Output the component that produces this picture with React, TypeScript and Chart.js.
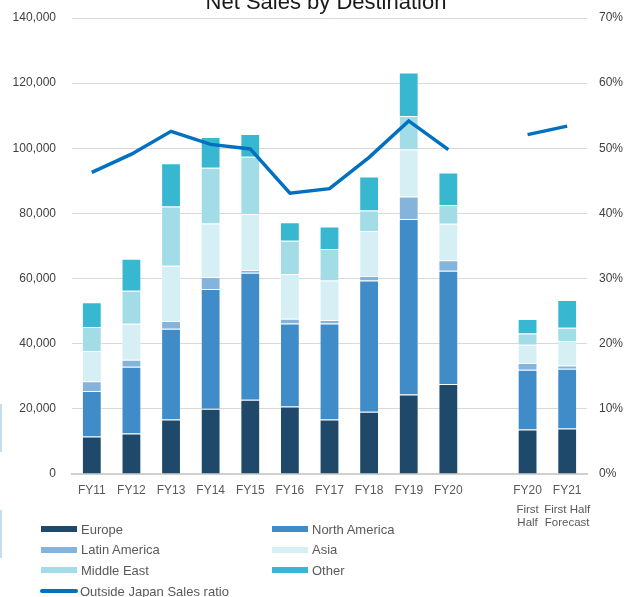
import React, { useEffect, useRef } from "react";
import { Chart, registerables } from "chart.js";

Chart.register(...registerables);

const FONT = "'Liberation Sans', Arial, sans-serif";

const categories = ["FY11", "FY12", "FY13", "FY14", "FY15", "FY16", "FY17", "FY18", "FY19", "FY20", "", "FY20", "FY21"];
const subLabels: string[][] = [[], [], [], [], [], [], [], [], [], [], [], ["First", "Half"], ["First Half", "Forecast"]];

const europe = [11500, 12400, 16700, 20050, 22800, 20700, 16700, 19100, 24400, 27600, null, 13700, 14000];
const northAmerica = [14000, 20500, 27900, 36750, 39000, 25500, 29500, 40300, 53900, 34800, null, 18300, 18300];
const latinAmerica = [3000, 2150, 2400, 3700, 800, 1500, 1100, 1400, 6900, 3200, null, 2100, 1000];
const asia = [9300, 11050, 16900, 16400, 17200, 13700, 12100, 13800, 14400, 11200, null, 5600, 7500];
const middleEast = [7300, 10150, 18200, 17100, 17600, 10200, 9700, 6300, 10300, 5800, null, 3400, 4100];
const other = [7600, 9800, 13300, 9500, 7000, 5700, 6900, 10400, 13400, 10000, null, 4500, 8500];
const outsideJapanRatio = [46.3, 49.1, 52.6, 50.6, 49.9, 43.1, 43.8, 48.6, 54.2, 49.8, null, 52.1, 53.4];

const seriesNames = ["Europe", "North America", "Latin America", "Asia", "Middle East", "Other"];
const seriesColors = ["#1F496B", "#3F8CC8", "#84B3DB", "#D6EFF5", "#A2DCE7", "#38B7D0"];
const seriesData = [europe, northAmerica, latinAmerica, asia, middleEast, other];
const lineName = "Outside Japan Sales ratio";
const lineColor = "#0070C0";
const title = "Net Sales by Destination";

const overlayPlugin = {
  id: "overlay",
  afterDraw(chart: any) {
    const ctx = chart.ctx;
    const xs = chart.scales.x;
    ctx.save();
    ctx.fillStyle = "#1a1a1a";
    ctx.font = `22px ${FONT}`;
    ctx.textAlign = "center";
    ctx.textBaseline = "alphabetic";
    ctx.fillText(title, 326, 9);
    ctx.fillStyle = "#595959";
    ctx.font = `11.5px ${FONT}`;
    ctx.textBaseline = "middle";
    subLabels.forEach((lines, i) => {
      const x = xs.getPixelForValue(i);
      lines.forEach((t, j) => ctx.fillText(t, x, 510 + j * 12.5));
    });
    ctx.restore();
  },
};

const zeroPad = (s: any) => {
  s.paddingTop = 0;
  s.paddingBottom = 0;
  s.paddingLeft = 0;
  s.paddingRight = 0;
};

export default function App() {
  const ref = useRef<HTMLCanvasElement>(null);
  useEffect(() => {
    if (!ref.current) return;
    const datasets: any[] = seriesNames.map((name, i) => ({
      type: "bar",
      label: name,
      data: seriesData[i],
      backgroundColor: seriesColors[i],
      borderColor: "rgba(255,255,255,0.25)",
      borderWidth: 1,
      yAxisID: "y",
      stack: "s",
      order: 1,
      categoryPercentage: 0.5,
      barPercentage: 1,
    }));
    datasets.push({
      type: "line",
      label: lineName,
      data: outsideJapanRatio,
      borderColor: lineColor,
      backgroundColor: lineColor,
      borderWidth: 3.5,
      pointRadius: 0,
      tension: 0,
      spanGaps: false,
      yAxisID: "y1",
      order: 0,
    });
    const chart = new Chart(ref.current, {
      type: "bar",
      data: { labels: categories, datasets },
      options: {
        responsive: false,
        animation: false,
        layout: { padding: { top: 18, left: 0, right: 0, bottom: 0 } },
        plugins: { legend: { display: false }, tooltip: { enabled: false }, title: { display: false } },
        scales: {
          x: {
            stacked: true,
            grid: { display: false },
            border: { display: true, color: "#D0D0D0", width: 2 },
            ticks: { color: "#595959", font: { family: FONT, size: 12 }, padding: 1, maxRotation: 0, autoSkip: false },
            afterFit: (s: any) => { s.height = 123; zeroPad(s); },
          },
          y: {
            stacked: true,
            position: "left",
            min: 0,
            max: 140000,
            grid: { color: "#D9D9D9", lineWidth: 1, drawTicks: false },
            border: { display: false },
            ticks: {
              stepSize: 20000,
              color: "#404040",
              font: { family: FONT, size: 12 },
              padding: 16,
              callback: (v: any) => Number(v).toLocaleString("en-US"),
            },
            afterFit: (s: any) => { s.width = 72; zeroPad(s); },
          },
          y1: {
            position: "right",
            min: 0,
            max: 70,
            grid: { display: false, drawTicks: false },
            border: { display: false },
            ticks: {
              stepSize: 10,
              color: "#404040",
              font: { family: FONT, size: 12 },
              padding: 12,
              callback: (v: any) => `${v}%`,
            },
            afterFit: (s: any) => { s.width = 38; zeroPad(s); },
          },
        },
      } as any,
      plugins: [overlayPlugin],
    });
    return () => chart.destroy();
  }, []);

  const legendItems = [
    ...seriesNames.map((n, i) => ({ name: n, color: seriesColors[i], line: false })),
    { name: lineName, color: lineColor, line: true },
  ];
  const colX = [41, 272];
  const rowY = [529, 549.5, 570, 591];

  return (
    <div style={{ position: "absolute", left: 0, top: 0, width: 625, height: 597, overflow: "hidden", background: "#fff" }}>
      <canvas ref={ref} width={625} height={597} style={{ position: "absolute", left: 0, top: 0 }} />
      <div style={{ position: "absolute", left: 0, top: 404, width: 2, height: 48, background: "#C5DDF0" }} />
      <div style={{ position: "absolute", left: 0, top: 510, width: 2, height: 48, background: "#C5DDF0" }} />
      {legendItems.map((it, i) => {
        const col = it.line ? 0 : i % 2;
        const row = it.line ? 3 : Math.floor(i / 2);
        return (
          <div
            key={i}
            style={{
              position: "absolute",
              left: colX[col] - (it.line ? 1 : 0),
              top: rowY[row] - 8,
              height: 16,
              display: "flex",
              alignItems: "center",
              fontFamily: FONT,
              fontSize: 13,
              color: "#595959",
              whiteSpace: "nowrap",
            }}
          >
            <span
              style={{
                display: "inline-block",
                width: it.line ? 38 : 36,
                height: it.line ? 3.5 : 6,
                borderRadius: it.line ? 2 : 0,
                background: it.color,
                marginRight: it.line ? 2 : 4,
              }}
            />
            {it.name}
          </div>
        );
      })}
    </div>
  );
}
